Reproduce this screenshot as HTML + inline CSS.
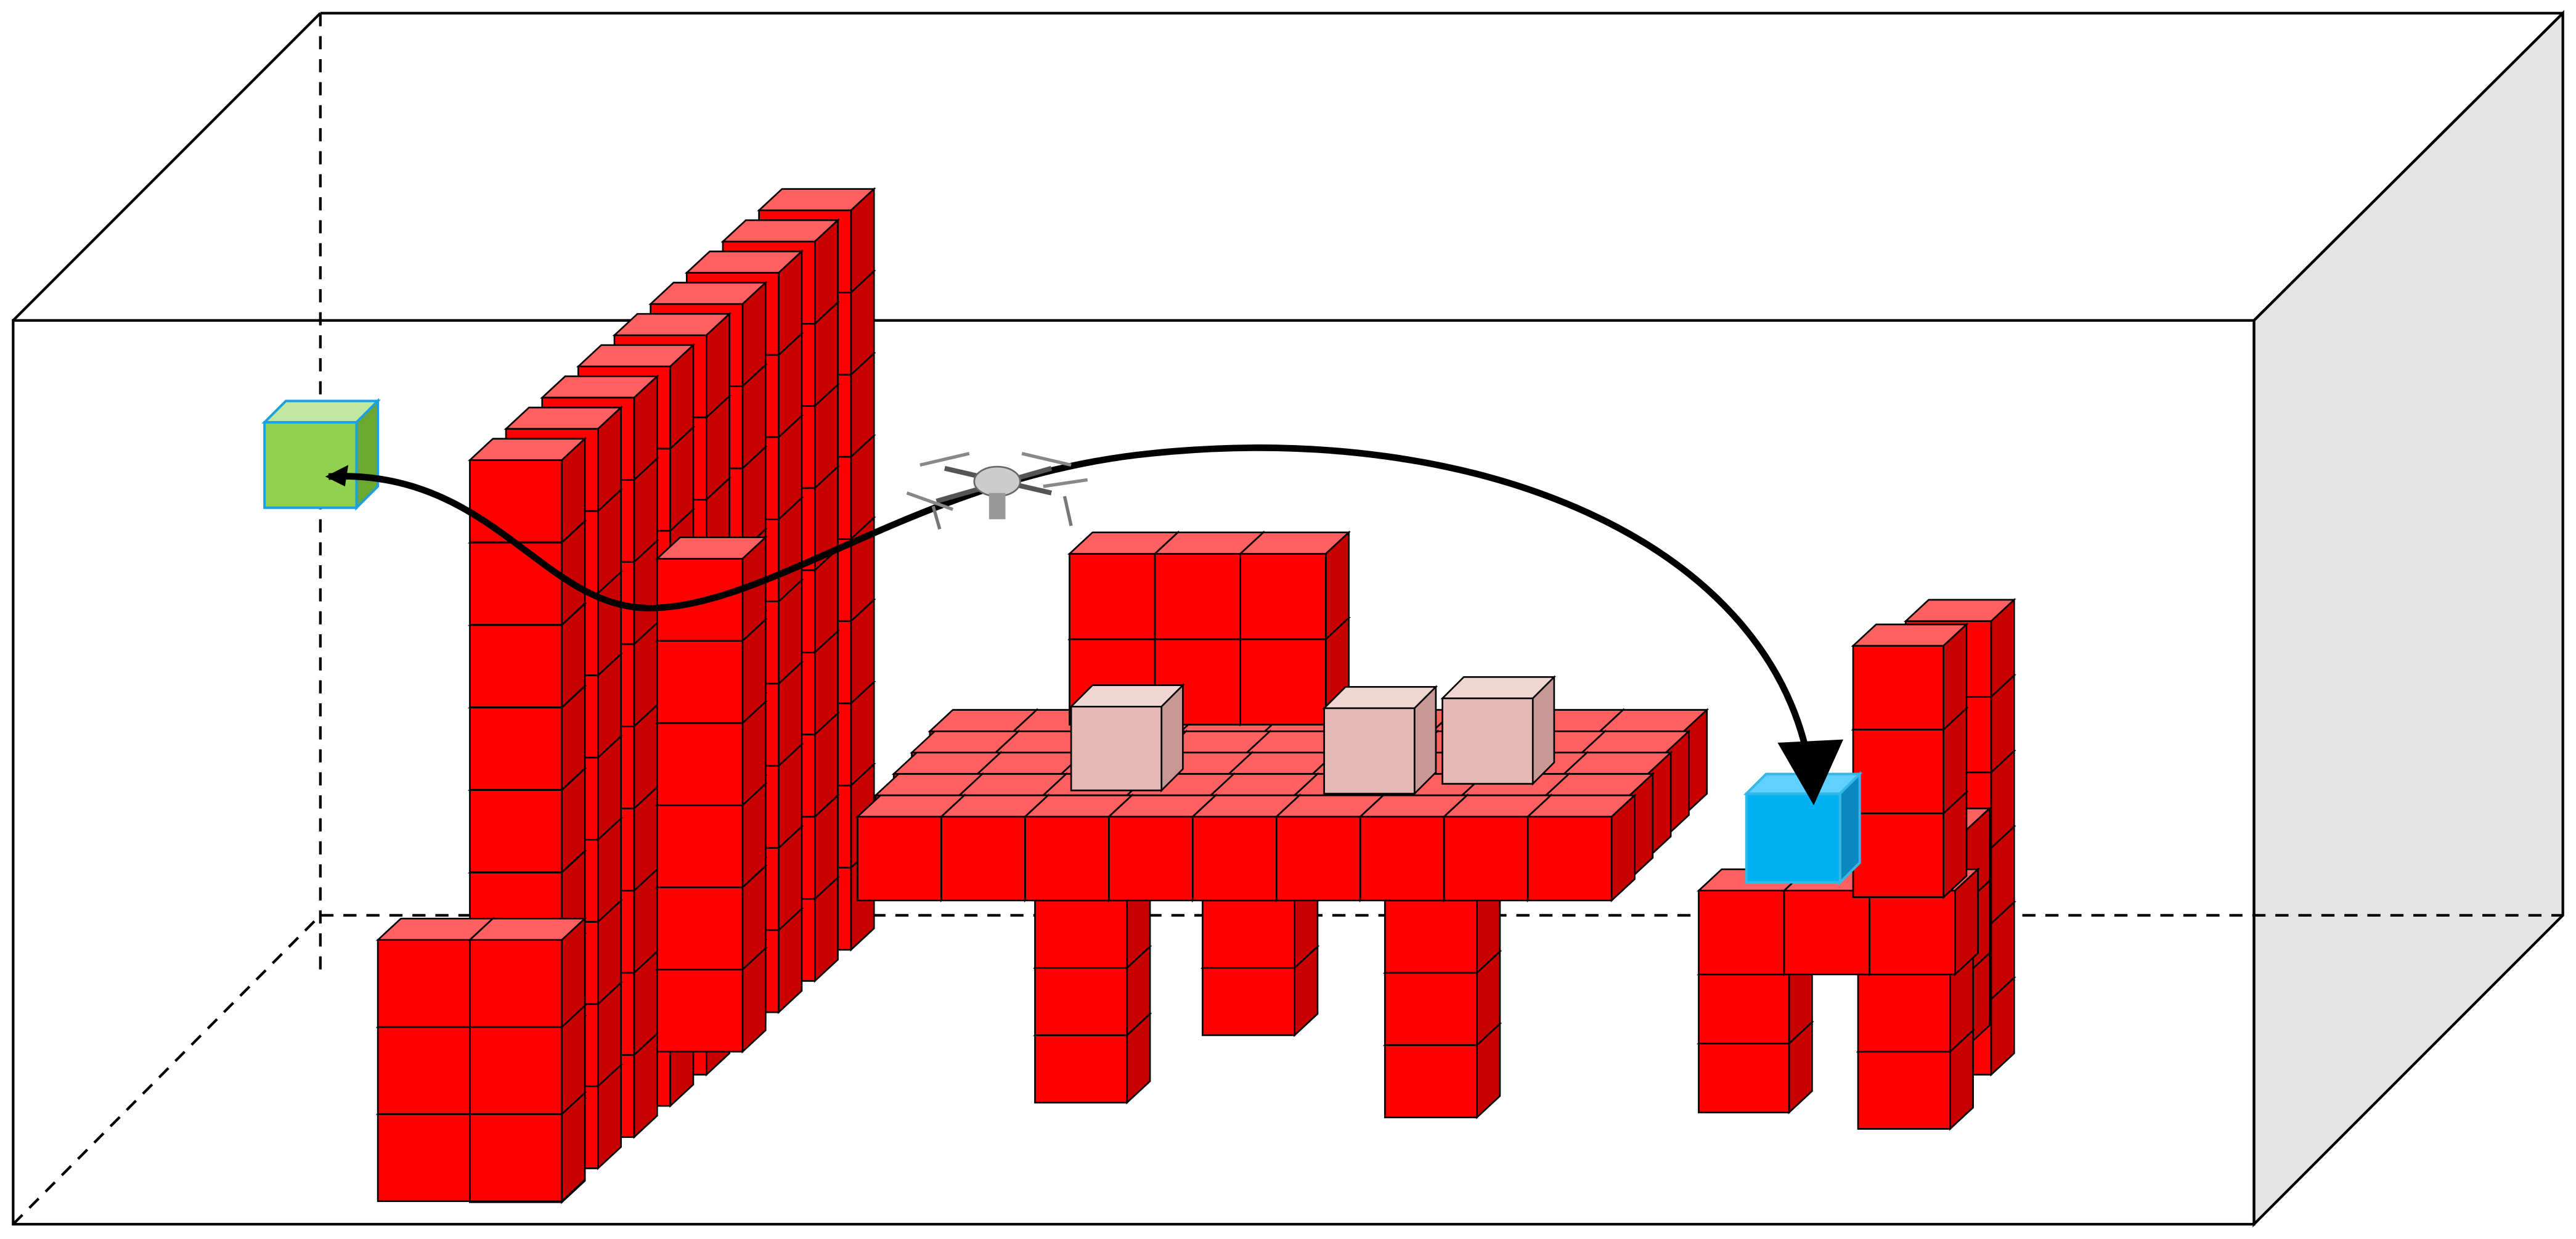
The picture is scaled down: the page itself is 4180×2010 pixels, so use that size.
<!DOCTYPE html>
<html><head><meta charset="utf-8">
<style>
html,body{margin:0;padding:0;background:#fff;}
svg{display:block;}
</style></head>
<body>
<svg id="scene" width="4180" height="2010" viewBox="0 0 1568 754" preserveAspectRatio="none" xmlns="http://www.w3.org/2000/svg">
<rect x="0" y="0" width="1568" height="754" fill="#fff"/>
<g stroke="#000" stroke-width="1.6" fill="none">
  <polygon points="1372,195 1560,8 1560,557 1372,745" fill="#e4e4e4"/>
  <line x1="195" y1="8" x2="1560" y2="8"/>
  <line x1="8" y1="195" x2="195" y2="8"/>
  <line x1="1372" y1="195" x2="1560" y2="8"/>
  <line x1="195" y1="8" x2="195" y2="595" stroke-dasharray="8,6"/>
  <line x1="195" y1="557" x2="1560" y2="557" stroke-dasharray="8,6"/>
  <line x1="8" y1="745" x2="195" y2="557" stroke-dasharray="8,6"/>
  <rect x="8" y="195" width="1364" height="550"/>
</g>
<g id="cubes"></g>
<g id="overlay"></g>
</svg>
<script>
const NS='http://www.w3.org/2000/svg';
const cubesG=document.getElementById('cubes');
const RED={f:'#ff0000',t:'#ff6161',s:'#c80000'};
const PINK={f:'#e5b9b5',t:'#f2d6d2',s:'#c89894'};
function poly(g,pts,fill,sw){
  const p=document.createElementNS(NS,'polygon');
  p.setAttribute('points',pts.map(a=>a.join(',')).join(' '));
  p.setAttribute('fill',fill);p.setAttribute('stroke','#000');p.setAttribute('stroke-width',sw||1);
  g.appendChild(p);return p;
}
function cube(x,y,w,h,dx,dy,c,name,stroke,sw){
  const g=document.createElementNS(NS,'g');
  
  
  const s=sw||1;
  const pt=poly(g,[[x,y],[x+dx,y-dy],[x+w+dx,y-dy],[x+w,y]],c.t,s);
  const ps=poly(g,[[x+w,y],[x+w+dx,y-dy],[x+w+dx,y+h-dy],[x+w,y+h]],c.s,s);
  const pf=poly(g,[[x,y],[x+w,y],[x+w,y+h],[x,y+h]],c.f,s);
  if(stroke){[pt,ps,pf].forEach(p=>p.setAttribute('stroke',stroke));}
  cubesG.appendChild(g);
}
const wallLayers=[8,7,6,5,4,3,2,1];
const wallRows=9;
for(const k of wallLayers){
  for(let r=wallRows-1;r>=0;r--) cube(286+k*22,280+k*-19+r*50,56,50,14,13,RED,'wall-cube');
}
for(let r=5;r>=0;r--) cube(400,340+r*50,52,50,14,13,RED,'inner-block-cube');
for(let r=wallRows-1;r>=0;r--) cube(286,280+r*50.2,56,50,14,13,RED,'wall-front-cube');
for(let r=2;r>=0;r--) cube(230,572+r*53,56,53,14,13,RED,'base-cube');
for(let r=2;r>=0;r--) cube(286,572+r*53,56,53,14,13,RED,'base-cube');
const legs=[[630,548,3,41],[732,548,2,41],[843,548,3,44]];
for(const L of legs){for(let r=L[2]-1;r>=0;r--) cube(L[0],L[1]+r*L[3],56,L[3],14,13,RED,'table-leg-cube');}
const tableCols=9, tableW=51;
function tableRow(k){for(let i=0;i<tableCols;i++) cube(522+k*11+i*tableW,497-k*13,tableW,51,14,13,RED,'table-cube');}
tableRow(4);tableRow(3);tableRow(2);
for(let r=1;r>=0;r--) for(let i=0;i<3;i++) cube(651+i*52,337+r*52,52,52,14,13,RED,'top-block-cube');
tableRow(1);tableRow(0);
cube(652,430,55,51,13,13,PINK,'pink-box');
cube(806,431,55,52,13,13,PINK,'pink-box');
cube(878,425,55,52,13,13,PINK,'pink-box');
for(let r=5;r>=0;r--) cube(1160,378+r*46,52,46,14,13,RED,'right-tower-back-cube');
for(let r=2;r>=0;r--) cube(1145,505+r*44,52,44,14,13,RED,'right-tower-cube');
for(let r=1;r>=0;r--) cube(1034,593+r*42,55,42,14,13,RED,'right-leg-cube');
for(let r=1;r>=0;r--) cube(1131,593+r*47,56,47,14,13,RED,'right-leg-cube');
for(let i=0;i<3;i++) cube(1034+i*52,542,52,51,14,13,RED,'right-base-cube');
for(let r=2;r>=0;r--) cube(1128,393+r*51,55,51,14,13,RED,'right-tower-front-cube');
cube(1063,483,57,54,12,12,{f:'#00b0f0',t:'#5fd0ff',s:'#0a88c0'},'goal-cube','#33b8e8',1.5);
cube(161,257,56,52,13,13,{f:'#92d050',t:'#c0e8a0',s:'#6aa830'},'start-cube','#1ca0e0',1.5);

const ov=document.getElementById('overlay');
const path=document.createElementNS(NS,'path');
path.setAttribute('d','M200,290 C300,285 330,370 395,370 C470,370 560,290 700,276 C900,255 1080,330 1102,470');
path.setAttribute('fill','none');path.setAttribute('stroke','#000');path.setAttribute('stroke-width','4');


ov.appendChild(path);
const head=document.createElementNS(NS,'polygon');
head.setAttribute('points','1082,452 1122,450 1104,490');
head.setAttribute('fill','#000');


ov.appendChild(head);
const st=document.createElementNS(NS,'polygon');
st.setAttribute('points','198,290 212,283 210,296');
st.setAttribute('fill','#000');
ov.appendChild(st);
const drone=document.createElementNS(NS,'g');


drone.innerHTML='<line x1="575" y1="285" x2="640" y2="300" stroke="#555" stroke-width="3"/><line x1="640" y1="285" x2="570" y2="305" stroke="#555" stroke-width="3"/>'+
'<ellipse cx="607" cy="293" rx="14" ry="9" fill="#ccc" stroke="#666"/>'+
'<line x1="560" y1="283" x2="590" y2="276" stroke="#888" stroke-width="2"/><line x1="622" y1="276" x2="652" y2="283" stroke="#888" stroke-width="2"/>'+
'<line x1="552" y1="300" x2="580" y2="310" stroke="#888" stroke-width="2"/><line x1="635" y1="296" x2="662" y2="292" stroke="#888" stroke-width="2"/>'+
'<rect x="602" y="300" width="10" height="16" fill="#999"/><line x1="568" y1="308" x2="572" y2="322" stroke="#777" stroke-width="2"/><line x1="648" y1="302" x2="652" y2="320" stroke="#777" stroke-width="2"/>';
ov.appendChild(drone);
</script>
</body></html>
